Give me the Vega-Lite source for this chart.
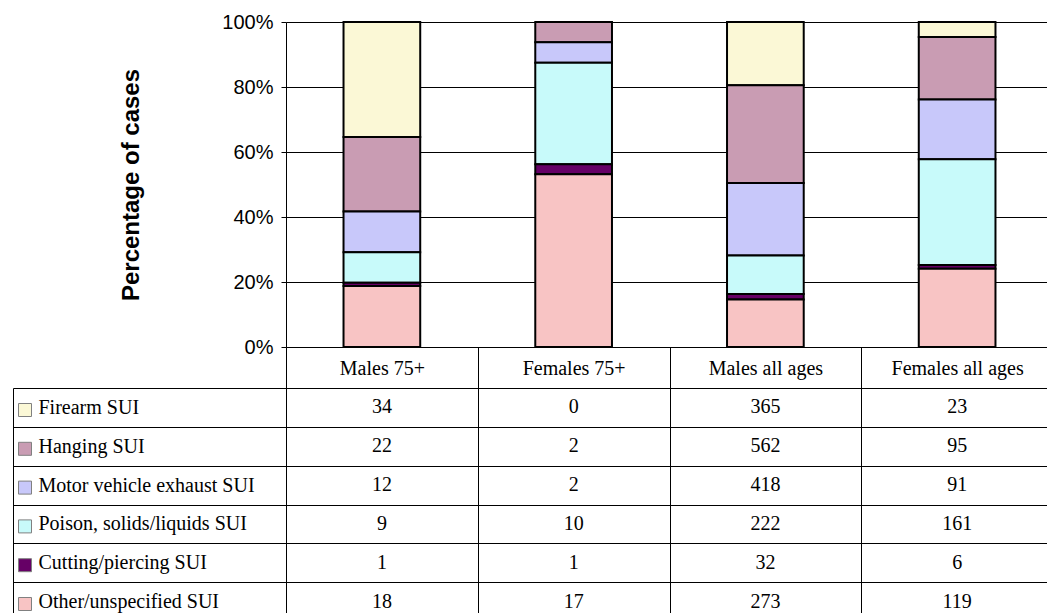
{
  "$schema": "https://vega.github.io/schema/vega-lite/v6.json",
  "padding": {"left": 12, "top": 12, "right": 0, "bottom": 0},
  "background": "white",
  "config": {"view": {"stroke": null}, "font": "Liberation Sans"},
  "data": {"values": [
    {"group": "Males 75+", "series": "Firearm SUI", "cases": 34, "rank": 6},
    {"group": "Males 75+", "series": "Hanging SUI", "cases": 22, "rank": 5},
    {"group": "Males 75+", "series": "Motor vehicle exhaust SUI", "cases": 12, "rank": 4},
    {"group": "Males 75+", "series": "Poison, solids/liquids SUI", "cases": 9, "rank": 3},
    {"group": "Males 75+", "series": "Cutting/piercing SUI", "cases": 1, "rank": 2},
    {"group": "Males 75+", "series": "Other/unspecified SUI", "cases": 18, "rank": 1},
    {"group": "Females 75+", "series": "Firearm SUI", "cases": 0, "rank": 6},
    {"group": "Females 75+", "series": "Hanging SUI", "cases": 2, "rank": 5},
    {"group": "Females 75+", "series": "Motor vehicle exhaust SUI", "cases": 2, "rank": 4},
    {"group": "Females 75+", "series": "Poison, solids/liquids SUI", "cases": 10, "rank": 3},
    {"group": "Females 75+", "series": "Cutting/piercing SUI", "cases": 1, "rank": 2},
    {"group": "Females 75+", "series": "Other/unspecified SUI", "cases": 17, "rank": 1},
    {"group": "Males all ages", "series": "Firearm SUI", "cases": 365, "rank": 6},
    {"group": "Males all ages", "series": "Hanging SUI", "cases": 562, "rank": 5},
    {"group": "Males all ages", "series": "Motor vehicle exhaust SUI", "cases": 418, "rank": 4},
    {"group": "Males all ages", "series": "Poison, solids/liquids SUI", "cases": 222, "rank": 3},
    {"group": "Males all ages", "series": "Cutting/piercing SUI", "cases": 32, "rank": 2},
    {"group": "Males all ages", "series": "Other/unspecified SUI", "cases": 273, "rank": 1},
    {"group": "Females all ages", "series": "Firearm SUI", "cases": 23, "rank": 6},
    {"group": "Females all ages", "series": "Hanging SUI", "cases": 95, "rank": 5},
    {"group": "Females all ages", "series": "Motor vehicle exhaust SUI", "cases": 91, "rank": 4},
    {"group": "Females all ages", "series": "Poison, solids/liquids SUI", "cases": 161, "rank": 3},
    {"group": "Females all ages", "series": "Cutting/piercing SUI", "cases": 6, "rank": 2},
    {"group": "Females all ages", "series": "Other/unspecified SUI", "cases": 119, "rank": 1}
  ]},
  "bounds": "flush",
  "spacing": 41,
  "vconcat": [
    {
      "width": 767,
      "height": 325,
      "mark": {"type": "bar", "stroke": "black", "strokeWidth": 2},
      "encoding": {
        "x": {"field": "group", "type": "nominal",
              "sort": ["Males 75+", "Females 75+", "Males all ages", "Females all ages"],
              "scale": {"paddingInner": 0.6, "paddingOuter": 0.3}, "axis": null},
        "y": {"field": "cases", "type": "quantitative", "stack": "normalize",
              "axis": {"title": "Percentage of cases", "format": ".0%",
                       "values": [0, 0.2, 0.4, 0.6, 0.8, 1],
                       "grid": true, "gridColor": "#000", "gridOpacity": 1, "gridWidth": 1,
                       "domainColor": "#000", "tickColor": "#000", "tickSize": 5,
                       "labelFont": "Liberation Sans", "labelFontSize": 20, "labelColor": "#000", "labelPadding": 8,
                       "titleFont": "Liberation Sans", "titleFontSize": 24, "titleFontWeight": "bold",
                       "titleColor": "#000", "titlePadding": 78}},
        "color": {"field": "series", "type": "nominal",
                  "scale": {"domain": ["Firearm SUI", "Hanging SUI", "Motor vehicle exhaust SUI", "Poison, solids/liquids SUI", "Cutting/piercing SUI", "Other/unspecified SUI"],
                            "range": ["#FBF8D6", "#C99CB3", "#C8C8FA", "#C8FAFA", "#660066", "#F8C4C4"]},
                  "legend": {"orient": "none", "legendX": -268, "legendY": 381, "title": null,
                             "direction": "vertical", "symbolType": "square", "symbolSize": 169,
                             "symbolStrokeColor": "#808080", "symbolStrokeWidth": 1, "symbolOpacity": 1,
                             "labelExpr": "''", "labelFontSize": 1, "rowPadding": 20.8, "padding": 0}},
        "order": {"field": "rank", "type": "quantitative"}
      }
    },
    {
      "width": 767,
      "height": 233,
      "view": {"stroke": "black"},
      "mark": {"type": "text", "font": "Liberation Serif", "fontSize": 20, "color": "black"},
      "encoding": {
        "x": {"field": "group", "type": "nominal",
              "sort": ["Males 75+", "Females 75+", "Males all ages", "Females all ages"],
              "scale": {"paddingInner": 0, "paddingOuter": 0},
              "axis": {"orient": "top", "title": null, "labelAngle": 0, "tickBand": "extent",
                       "grid": true, "gridColor": "#000", "gridOpacity": 1,
                       "ticks": true, "tickSize": 41, "tickColor": "#000", "domain": false,
                       "labelFont": "Liberation Serif", "labelFontSize": 20, "labelColor": "#000",
                       "labelBaseline": "middle", "labelPadding": -21}},
        "y": {"field": "series", "type": "nominal",
              "sort": ["Firearm SUI", "Hanging SUI", "Motor vehicle exhaust SUI", "Poison, solids/liquids SUI", "Cutting/piercing SUI", "Other/unspecified SUI"],
              "axis": {"orient": "left", "offset": 273, "title": null, "tickBand": "extent",
                       "grid": true, "gridColor": "#000", "gridOpacity": 1,
                       "domain": true, "domainColor": "#000",
                       "ticks": true, "tickSize": -273, "tickColor": "#000",
                       "labelAlign": "left", "labelBaseline": "middle", "labelPadding": 248,
                       "labelFont": "Liberation Serif", "labelFontSize": 20, "labelColor": "#000", "labelLimit": 400}},
        "text": {"field": "cases", "type": "quantitative"}
      }
    }
  ]
}
